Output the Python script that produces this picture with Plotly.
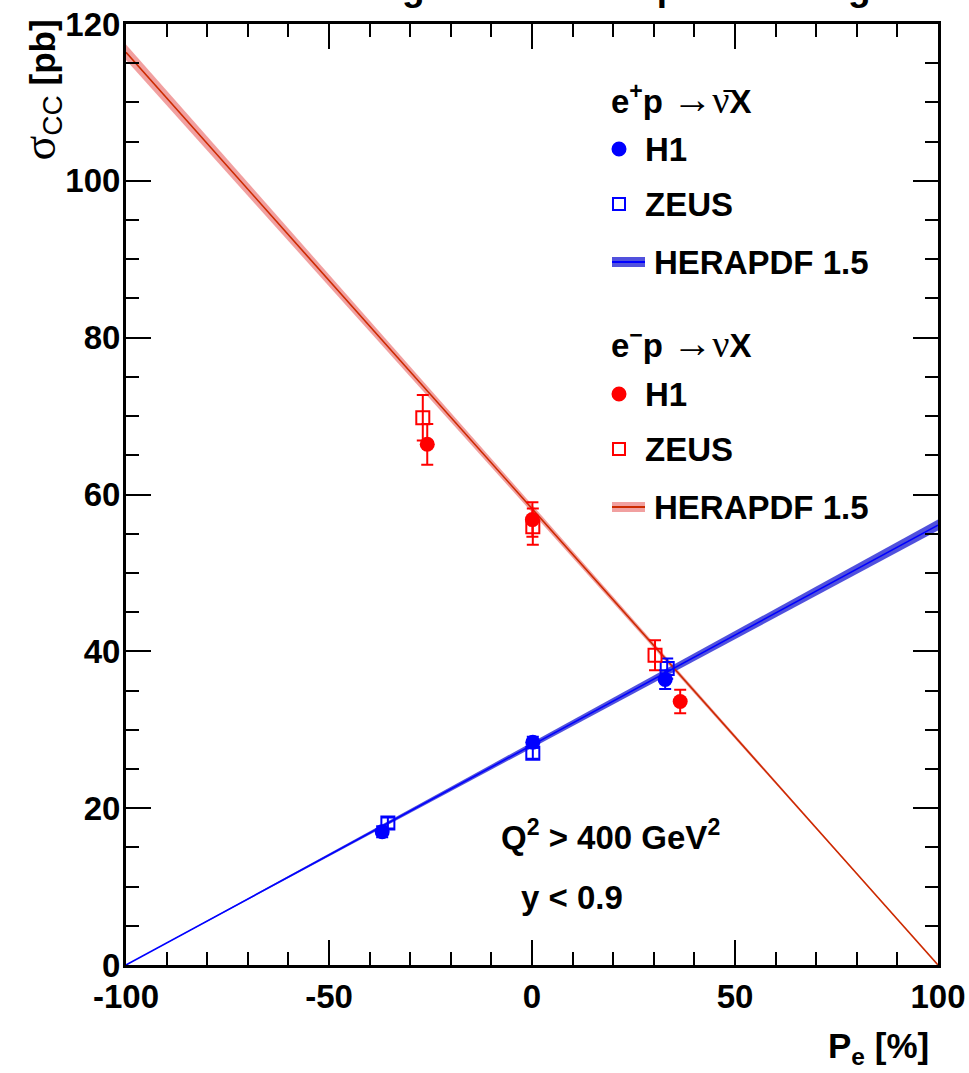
import plotly.graph_objects as go

# Polarisation values [%] and charged-current cross sections [pb]
# e+p -> anti-nu X
h1_pos_pe = [-36.9, 0.2, 32.8]
h1_pos_sigma = [17.0, 28.4, 36.4]
h1_pos_err = [0.7, 0.7, 1.2]

zeus_pos_pe = [-35.5, 0.2, 33.3]
zeus_pos_sigma = [18.1, 27.0, 37.8]
zeus_pos_err = [0.7, 0.7, 1.3]

# e-p -> nu X
h1_neg_pe = [-25.8, 0.1, 36.5]
h1_neg_sigma = [66.4, 56.8, 33.6]
h1_neg_err = [2.6, 2.2, 1.5]

zeus_neg_pe = [-26.9, 0.2, 30.3]
zeus_neg_sigma = [69.8, 55.9, 39.5]
zeus_neg_err = [2.9, 2.3, 1.9]

# HERAPDF 1.5 predictions (linear in Pe)
pdf_pe = [-100, 100]
pdf_pos_central = [0.0, 56.1]
pdf_pos_up = [0.0, 56.8]
pdf_pos_lo = [0.0, 55.4]
pdf_neg_central = [116.4, 0.0]
pdf_neg_up = [117.4, 0.0]
pdf_neg_lo = [115.4, 0.0]

# axis tick labels
x_tickvals = [-100, -50, 0, 50, 100]
x_ticktext = ["-100", "-50", "0", "50", "100"]
y_tickvals = [0, 20, 40, 60, 80, 100, 120]
y_ticktext = ["0", "20", "40", "60", "80", "100", "120"]

BLUE = "#0000ff"
BLUE_BAND = "rgba(50,50,215,0.85)"
RED = "#ff0000"
RED_LINE = "#cc2a00"
RED_BAND = "rgba(240,150,150,0.9)"

SANS = "Liberation Sans, Arial, sans-serif"
SERIF = "Liberation Serif, Times New Roman, serif"
FS = 33

W, H = 969, 1073
L, R, T, B = 126, 938, 24, 965


def px(x):
    return (x - L) / (R - L)


def py(y):
    return (B - y) / (B - T)


def bold_font(size=FS):
    return dict(family=SANS, size=size, color="black", weight="bold")


fig = go.Figure()

# prediction bands
for lo, up, band in [(pdf_neg_lo, pdf_neg_up, RED_BAND), (pdf_pos_lo, pdf_pos_up, BLUE_BAND)]:
    fig.add_trace(go.Scatter(x=pdf_pe, y=lo, mode="lines", line=dict(width=0, color=band),
                             showlegend=False, hoverinfo="skip"))
    fig.add_trace(go.Scatter(x=pdf_pe, y=up, mode="lines", line=dict(width=0, color=band),
                             fill="tonexty", fillcolor=band, showlegend=False, hoverinfo="skip"))

fig.add_trace(go.Scatter(x=pdf_pe, y=pdf_neg_central, mode="lines",
                         line=dict(color=RED_LINE, width=1.6), showlegend=False))
fig.add_trace(go.Scatter(x=pdf_pe, y=pdf_pos_central, mode="lines",
                         line=dict(color=BLUE, width=1.6), showlegend=False))


def points(x, y, err, color, symbol, size, width):
    return go.Scatter(
        x=x, y=y, mode="markers",
        marker=dict(symbol=symbol, size=size, color=color,
                    line=dict(color=color, width=width)),
        error_y=dict(type="data", array=err, color=color, thickness=2, width=6),
        showlegend=False,
    )


fig.add_trace(points(zeus_pos_pe, zeus_pos_sigma, zeus_pos_err, BLUE, "square-open", 13, 2))
fig.add_trace(points(zeus_neg_pe, zeus_neg_sigma, zeus_neg_err, RED, "square-open", 13, 2))
fig.add_trace(points(h1_pos_pe, h1_pos_sigma, h1_pos_err, BLUE, "circle", 15, 0))
fig.add_trace(points(h1_neg_pe, h1_neg_sigma, h1_neg_err, RED, "circle", 15, 0))

shapes = []
annotations = []


def text_at(x, y, text, xanchor="left", size=FS):
    annotations.append(dict(xref="paper", yref="paper", x=px(x), y=py(y), xanchor=xanchor,
                            yanchor="middle", text=text, showarrow=False, font=bold_font(size)))


def legend_block(y0, color, line_color, band_color):
    # H1 symbol
    shapes.append(dict(type="circle", xref="paper", yref="paper",
                       x0=px(611.5), x1=px(626.5), y0=py(y0 + 7.5), y1=py(y0 - 7.5),
                       fillcolor=color, line=dict(width=0)))
    # ZEUS symbol
    yz = y0 + 55
    shapes.append(dict(type="rect", xref="paper", yref="paper",
                       x0=px(613), x1=px(625), y0=py(yz + 6), y1=py(yz - 6),
                       line=dict(color=color, width=2)))
    # HERAPDF symbol
    yb = y0 + 113
    shapes.append(dict(type="rect", xref="paper", yref="paper",
                       x0=px(612), x1=px(645), y0=py(yb + 5), y1=py(yb - 5),
                       fillcolor=band_color, line=dict(width=0)))
    shapes.append(dict(type="line", xref="paper", yref="paper",
                       x0=px(612), x1=px(645), y0=py(yb), y1=py(yb),
                       line=dict(color=line_color, width=2)))
    text_at(643, y0, "H1")
    text_at(643, yz, "ZEUS")
    text_at(652, yb, "HERAPDF 1.5")


ARROW = "<span style='font-family:Liberation Serif;font-weight:normal;font-size:40px'>→</span>"
text_at(609, 100, "e<sup>+</sup>p " + ARROW +
        "<span style='font-family:Liberation Serif;font-weight:normal;font-size:38px'>ν̄</span>X")
legend_block(149, BLUE, BLUE, BLUE_BAND)
text_at(609, 343, "e<sup>−</sup>p " + ARROW +
        "<span style='font-family:Liberation Serif;font-weight:normal;font-size:38px'>ν</span>X")
legend_block(394, RED, RED_LINE, RED_BAND)

# kinematic range
text_at(499, 835, "Q<sup>2</sup> > 400 GeV<sup>2</sup>")
text_at(519, 897, "y < 0.9")

# axis titles
text_at(931, 1048, "P<sub>e</sub> [%]", xanchor="right", size=35)
annotations.append(dict(xref="paper", yref="paper", x=px(40), y=py(18), xanchor="center",
                        yanchor="top", textangle=-90, showarrow=False,
                        text="<span style='font-family:Liberation Serif;font-weight:normal;font-size:46px'>σ</span>"
                             "<sub><span style='font-weight:normal;font-size:28px'>CC</span></sub> [pb]",
                        font=bold_font(35)))

# title, running off the top edge of the page
annotations.append(dict(xref="paper", yref="paper", x=px(537), y=py(10), xanchor="center",
                        yanchor="bottom", showarrow=False,
                        text="HERA Charged Current e<sup>±</sup>p Scattering",
                        font=bold_font(37)))

axis_common = dict(
    showline=True, linewidth=3, linecolor="black", mirror="allticks",
    ticks="inside", ticklen=25, tickwidth=1.5, tickcolor="black",
    showgrid=False, zeroline=False, automargin=False,
    tickfont=bold_font(33),
)

fig.update_layout(
    width=W, height=H,
    margin=dict(l=L, r=W - R, t=T, b=H - B, autoexpand=False),
    paper_bgcolor="white", plot_bgcolor="white",
    xaxis=dict(range=[-100, 100], tickmode="array", tickvals=x_tickvals, ticktext=x_ticktext,
               minor=dict(ticks="inside", dtick=10, ticklen=13, tickwidth=1.5, tickcolor="black"),
               **axis_common),
    yaxis=dict(range=[0, 120], tickmode="array", tickvals=y_tickvals, ticktext=y_ticktext,
               minor=dict(ticks="inside", dtick=5, ticklen=13, tickwidth=1.5, tickcolor="black"),
               ticklabelstandoff=-4,
               **axis_common),
    shapes=shapes,
    annotations=annotations,
)

fig.write_html("out.html")
